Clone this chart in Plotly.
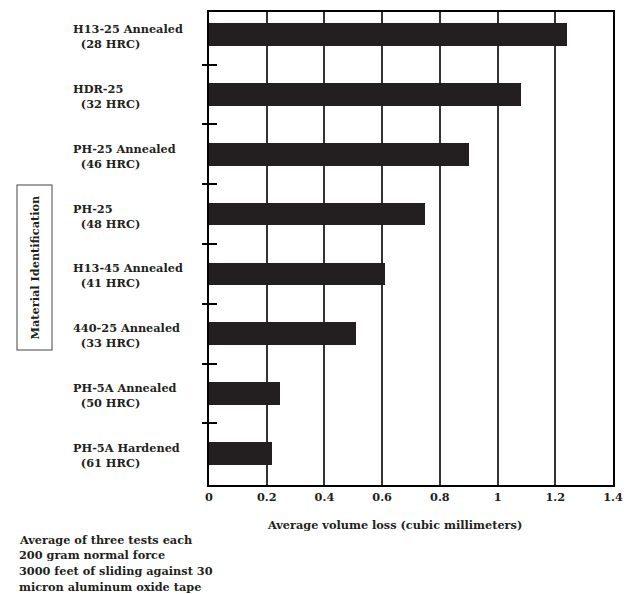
import plotly.graph_objects as go

# Abrasion test results per material
materials = [
    "H13-25 Annealed",
    "HDR-25",
    "PH-25 Annealed",
    "PH-25",
    "H13-45 Annealed",
    "440-25 Annealed",
    "PH-5A Annealed",
    "PH-5A Hardened",
]
hardness = ["28 HRC", "32 HRC", "46 HRC", "48 HRC", "41 HRC", "33 HRC", "50 HRC", "61 HRC"]
volume_loss = [1.24, 1.08, 0.90, 0.75, 0.61, 0.51, 0.245, 0.22]

x_ticks = [0, 0.2, 0.4, 0.6, 0.8, 1, 1.2, 1.4]
x_tick_text = ["0", "0.2", "0.4", "0.6", "0.8", "1", "1.2", "1.4"]

notes = [
    "Average of three tests each",
    "200 gram normal force",
    "3000 feet of sliding against 30",
    "micron aluminum oxide tape",
]

FONT = "DejaVu Serif"
INK = "#231f20"
W, H = 626, 594
ML, MR, MT, MB = 209, 13, 12, 109
PW, PH = W - ML - MR, H - MT - MB


def px(x):
    return (x - ML) / PW


def py(y):
    return (H - MB - y) / PH


n = len(materials)
y_range = [n - 1 + 0.53, -0.38]
boundaries = [i + 0.5 for i in range(n - 1)]
text_font = dict(family=FONT, size=11.3, color=INK, weight="bold")

fig = go.Figure()
fig.add_trace(go.Bar(
    x=volume_loss, y=materials, orientation="h",
    marker=dict(color=INK, line=dict(width=0)),
    width=0.38, showlegend=False, hoverinfo="skip",
))
# empty traces that carry the separator tick axes
fig.add_trace(go.Scatter(x=[], y=[], yaxis="y2", showlegend=False))
fig.add_trace(go.Scatter(x=[], y=[], yaxis="y3", showlegend=False))

sep_axis = dict(
    overlaying="y", anchor="x", range=y_range, tickmode="array",
    tickvals=boundaries, showticklabels=False, showgrid=False, automargin=False,
    zeroline=False, tickcolor="black", tickwidth=1.5, showline=False,
)

fig.update_layout(
    width=W, height=H,
    margin=dict(l=ML, r=MR, t=MT, b=MB, autoexpand=False),
    paper_bgcolor="white", plot_bgcolor="white",
    font=text_font,
    bargap=0,
    xaxis=dict(
        range=[0, 1.4], tickmode="array", tickvals=x_ticks, ticktext=x_tick_text,
        showgrid=True, gridcolor="#333333", gridwidth=1.5, zeroline=False,
        showline=True, linecolor="black", linewidth=2, mirror=True,
        ticks="", ticklabelstandoff=0, tickfont=text_font, automargin=False,
    ),
    yaxis=dict(
        type="category", categoryorder="array", categoryarray=materials,
        range=y_range, showticklabels=False, ticks="", showgrid=False, automargin=False,
        zeroline=False, showline=True, linecolor="black", linewidth=2, mirror=True,
    ),
    yaxis2=dict(**sep_axis, ticks="outside", ticklen=6),
    yaxis3=dict(**sep_axis, ticks="inside", ticklen=8),
)

# two-line material labels, left aligned
for name, hrc in zip(materials, hardness):
    fig.add_annotation(
        x=px(71), xref="paper", xanchor="left", y=name, yref="y", yanchor="middle",
        yshift=-2,
        text=f"{name}<br>\u00a0\u00a0({hrc})", showarrow=False, align="left",
        font=text_font,
    )

fig.add_annotation(
    x=px(34.5), xref="paper", xanchor="center", y=py(268), yref="paper", yanchor="middle",
    text="Material Identification", textangle=-90, showarrow=False,
    bordercolor="#444", borderwidth=1, borderpad=10, bgcolor="white",
    font=text_font,
)

fig.add_annotation(
    x=px(394), xref="paper", xanchor="center", y=py(525), yref="paper", yanchor="middle",
    text="Average volume loss (cubic millimeters)", showarrow=False,
    font=text_font,
)

# test conditions, one line per annotation
for i, line in enumerate(notes):
    fig.add_annotation(
        x=px(17), xref="paper", xanchor="left",
        y=py(539.5 + i * 15.7), yref="paper", yanchor="middle",
        text=line, showarrow=False, align="left", font=text_font,
    )

fig.write_html("out.html")
